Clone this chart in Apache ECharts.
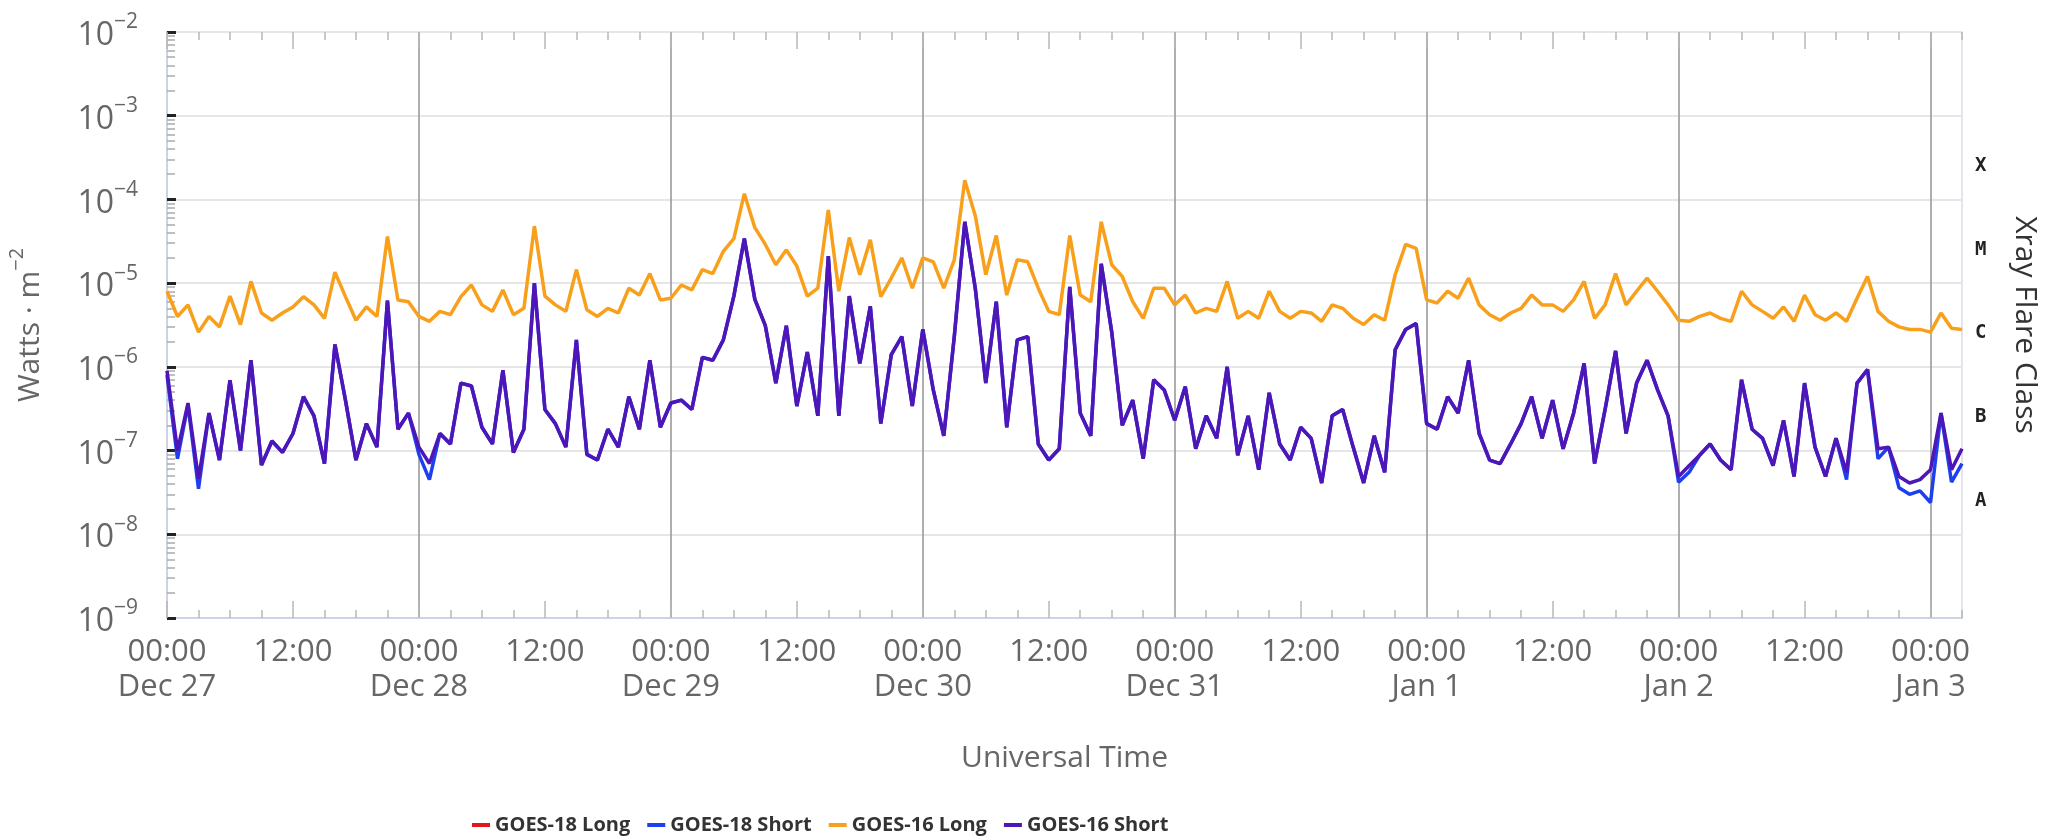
<!DOCTYPE html>
<html>
<head>
<meta charset="utf-8">
<script src="https://cdn.jsdelivr.net/npm/echarts@6/dist/echarts.min.js"></script>
<style>
  html, body { margin: 0; padding: 0; background: #fff; }
  #main { width: 2051px; height: 836px; }
</style>
</head>
<body>
<div id="main"></div>
<script>
// hourly samples, hour 0 = Dec 27 00:00 UTC
var dayLabels = ['Dec 27', 'Dec 28', 'Dec 29', 'Dec 30', 'Dec 31', 'Jan 1', 'Jan 2', 'Jan 3'];
var flareClasses = ['A', 'B', 'C', 'M', 'X'];
var flareLevels = [-8, -7, -6, -5, -4];   // log10 of class threshold

var goes18Long = [];

var goes18Short = [
  8e-7, 8e-8, 3.5e-7, 3.5e-8, 2.8e-7, 7.7e-8, 6.9e-7, 1e-7, 1.2e-6, 6.7e-8, 1.3e-7, 9.5e-8,
  1.6e-7, 4.4e-7, 2.6e-7, 7e-8, 1.85e-6, 4e-7, 7.7e-8, 2.1e-7, 1.1e-7, 6.2e-6, 1.8e-7, 2.8e-7,
  9e-8, 4.5e-8, 1.6e-7, 1.2e-7, 6.4e-7, 5.9e-7, 1.9e-7, 1.2e-7, 9.1e-7, 9.5e-8, 1.8e-7, 1e-5,
  3.1e-7, 2.1e-7, 1.1e-7, 2.1e-6, 9e-8, 7.7e-8, 1.8e-7, 1.1e-7, 4.4e-7, 1.8e-7, 1.2e-6, 1.9e-7,
  3.7e-7, 4e-7, 3.1e-7, 1.3e-6, 1.2e-6, 2.1e-6, 7e-6, 3.4e-5, 6.4e-6, 3.1e-6, 6.4e-7, 3.1e-6,
  3.4e-7, 1.5e-6, 2.6e-7, 2.1e-5, 2.6e-7, 7e-6, 1.1e-6, 5.3e-6, 2.1e-7, 1.4e-6, 2.3e-6, 3.4e-7,
  2.8e-6, 5.3e-7, 1.5e-7, 2.3e-6, 5.4e-5, 8.7e-6, 6.4e-7, 6e-6, 1.9e-7, 2.1e-6, 2.3e-6, 1.2e-7,
  7.7e-8, 1.05e-7, 9e-6, 2.8e-7, 1.5e-7, 1.7e-5, 2.6e-6, 2e-7, 4e-7, 8e-8, 7e-7, 5.3e-7,
  2.3e-7, 5.8e-7, 1.05e-7, 2.6e-7, 1.4e-7, 1e-6, 8.8e-8, 2.6e-7, 5.9e-8, 4.9e-7, 1.2e-7, 7.7e-8,
  1.9e-7, 1.4e-7, 4.1e-8, 2.6e-7, 3.1e-7, 1.1e-7, 4.1e-8, 1.5e-7, 5.5e-8, 1.6e-6, 2.8e-6, 3.3e-6,
  2.1e-7, 1.8e-7, 4.4e-7, 2.8e-7, 1.2e-6, 1.6e-7, 7.7e-8, 7e-8, 1.2e-7, 2.1e-7, 4.4e-7, 1.4e-7,
  4e-7, 1.05e-7, 2.8e-7, 1.1e-6, 7e-8, 3.1e-7, 1.55e-6, 1.6e-7, 6.4e-7, 1.2e-6, 5.3e-7, 2.6e-7,
  4.2e-8, 5.5e-8, 8.8e-8, 1.2e-7, 7.7e-8, 5.9e-8, 7e-7, 1.8e-7, 1.4e-7, 6.6e-8, 2.3e-7, 4.9e-8,
  6.4e-7, 1.1e-7, 4.9e-8, 1.4e-7, 4.5e-8, 6.4e-7, 9.3e-7, 8e-8, 1.1e-7, 3.6e-8, 3e-8, 3.3e-8,
  2.4e-8, 2.8e-7, 4.2e-8, 7e-8
];

var goes16Long = [
  8e-6, 4e-6, 5.5e-6, 2.6e-6, 4e-6, 3e-6, 7e-6, 3.2e-6, 1.05e-5, 4.4e-6, 3.6e-6, 4.4e-6,
  5.2e-6, 6.9e-6, 5.5e-6, 3.8e-6, 1.35e-5, 6.9e-6, 3.6e-6, 5.2e-6, 4e-6, 3.6e-5, 6.3e-6, 6e-6,
  4e-6, 3.5e-6, 4.6e-6, 4.2e-6, 6.9e-6, 9.5e-6, 5.5e-6, 4.6e-6, 8.3e-6, 4.2e-6, 5e-6, 4.8e-5,
  7e-6, 5.5e-6, 4.6e-6, 1.45e-5, 4.8e-6, 4e-6, 5e-6, 4.4e-6, 8.7e-6, 7.2e-6, 1.3e-5, 6.3e-6,
  6.6e-6, 9.5e-6, 8.3e-6, 1.45e-5, 1.3e-5, 2.4e-5, 3.4e-5, 1.17e-4, 4.6e-5, 2.9e-5, 1.66e-5, 2.5e-5,
  1.6e-5, 7e-6, 8.7e-6, 7.5e-5, 8e-6, 3.5e-5, 1.26e-5, 3.3e-5, 6.9e-6, 1.15e-5, 2e-5, 8.7e-6,
  2e-5, 1.8e-5, 8.7e-6, 1.9e-5, 1.7e-4, 6.4e-5, 1.26e-5, 3.7e-5, 7.2e-6, 1.9e-5, 1.8e-5, 8.7e-6,
  4.6e-6, 4.2e-6, 3.7e-5, 7.2e-6, 6e-6, 5.4e-5, 1.66e-5, 1.2e-5, 6e-6, 3.8e-6, 8.7e-6, 8.7e-6,
  5.5e-6, 7.2e-6, 4.4e-6, 5e-6, 4.6e-6, 1.05e-5, 3.8e-6, 4.6e-6, 3.8e-6, 8e-6, 4.6e-6, 3.8e-6,
  4.6e-6, 4.4e-6, 3.5e-6, 5.5e-6, 5e-6, 3.8e-6, 3.2e-6, 4.2e-6, 3.6e-6, 1.26e-5, 2.9e-5, 2.6e-5,
  6.3e-6, 5.8e-6, 8e-6, 6.6e-6, 1.15e-5, 5.5e-6, 4.2e-6, 3.6e-6, 4.4e-6, 5e-6, 7.2e-6, 5.5e-6,
  5.5e-6, 4.6e-6, 6.3e-6, 1.05e-5, 3.8e-6, 5.5e-6, 1.3e-5, 5.5e-6, 8e-6, 1.15e-5, 8e-6, 5.5e-6,
  3.6e-6, 3.5e-6, 4e-6, 4.4e-6, 3.8e-6, 3.5e-6, 8e-6, 5.5e-6, 4.6e-6, 3.8e-6, 5.2e-6, 3.5e-6,
  7.2e-6, 4.2e-6, 3.6e-6, 4.4e-6, 3.5e-6, 6.6e-6, 1.2e-5, 4.6e-6, 3.5e-6, 3e-6, 2.8e-6, 2.8e-6,
  2.6e-6, 4.4e-6, 2.9e-6, 2.8e-6
];

var goes16Short = [
  9e-7, 1e-7, 3.7e-7, 4.6e-8, 2.8e-7, 7.7e-8, 6.9e-7, 1e-7, 1.2e-6, 6.7e-8, 1.3e-7, 9.5e-8,
  1.6e-7, 4.4e-7, 2.6e-7, 7e-8, 1.85e-6, 4e-7, 7.7e-8, 2.1e-7, 1.1e-7, 6.2e-6, 1.8e-7, 2.8e-7,
  1.1e-7, 7e-8, 1.6e-7, 1.2e-7, 6.4e-7, 5.9e-7, 1.9e-7, 1.2e-7, 9.1e-7, 9.5e-8, 1.8e-7, 1e-5,
  3.1e-7, 2.1e-7, 1.1e-7, 2.1e-6, 9e-8, 7.7e-8, 1.8e-7, 1.1e-7, 4.4e-7, 1.8e-7, 1.2e-6, 1.9e-7,
  3.7e-7, 4e-7, 3.1e-7, 1.3e-6, 1.2e-6, 2.1e-6, 7e-6, 3.4e-5, 6.4e-6, 3.1e-6, 6.4e-7, 3.1e-6,
  3.4e-7, 1.5e-6, 2.6e-7, 2.1e-5, 2.6e-7, 7e-6, 1.1e-6, 5.3e-6, 2.1e-7, 1.4e-6, 2.3e-6, 3.4e-7,
  2.8e-6, 5.3e-7, 1.5e-7, 2.3e-6, 5.4e-5, 8.7e-6, 6.4e-7, 6e-6, 1.9e-7, 2.1e-6, 2.3e-6, 1.2e-7,
  7.7e-8, 1.05e-7, 9e-6, 2.8e-7, 1.5e-7, 1.7e-5, 2.6e-6, 2e-7, 4e-7, 8e-8, 7e-7, 5.3e-7,
  2.3e-7, 5.8e-7, 1.05e-7, 2.6e-7, 1.4e-7, 1e-6, 8.8e-8, 2.6e-7, 5.9e-8, 4.9e-7, 1.2e-7, 7.7e-8,
  1.9e-7, 1.4e-7, 4.1e-8, 2.6e-7, 3.1e-7, 1.1e-7, 4.1e-8, 1.5e-7, 5.5e-8, 1.6e-6, 2.8e-6, 3.3e-6,
  2.1e-7, 1.8e-7, 4.4e-7, 2.8e-7, 1.2e-6, 1.6e-7, 7.7e-8, 7e-8, 1.2e-7, 2.1e-7, 4.4e-7, 1.4e-7,
  4e-7, 1.05e-7, 2.8e-7, 1.1e-6, 7e-8, 3.1e-7, 1.55e-6, 1.6e-7, 6.4e-7, 1.2e-6, 5.3e-7, 2.6e-7,
  4.9e-8, 6.6e-8, 8.8e-8, 1.2e-7, 7.7e-8, 5.9e-8, 7e-7, 1.8e-7, 1.4e-7, 6.6e-8, 2.3e-7, 4.9e-8,
  6.4e-7, 1.1e-7, 4.9e-8, 1.4e-7, 5.5e-8, 6.4e-7, 9.3e-7, 1.05e-7, 1.1e-7, 4.9e-8, 4.1e-8, 4.5e-8,
  5.9e-8, 2.8e-7, 5.9e-8, 1.05e-7
];

var mychart = echarts.init(document.getElementById('main'));

function toPoints(arr) {
    // plot on a log10 scale
    return arr.map(function (v, i) { return [i, Math.log10(v)]; });
}

var majorHours = [], minorHours = [], dayHours = [];
for (var h = 0; h <= 171; h += 3) {
    if (h % 12 === 0) majorHours.push(h); else minorHours.push(h);
    if (h % 24 === 0 && h > 0) dayHours.push(h);
}
var minorDecades = [];
for (var n = -9; n < -2; n++) {
    for (var k = 2; k <= 9; k++) minorDecades.push(n + Math.log10(k));
}

var font = 'Open Sans';
var supRich = {
    b: {fontFamily: font, fontSize: 32, color: '#666', lineHeight: 40, verticalAlign: 'bottom'},
    s: {fontFamily: font, fontSize: 21, color: '#666', lineHeight: 22, verticalAlign: 'top'}
};

function hourLabel(v) {
    if (v % 24 === 0) return '00:00\n' + dayLabels[v / 24];
    return '12:00';
}

var tickAxis = function (pos, vals, len) {
    return {
        type: 'value', min: 0, max: 171, position: pos, gridIndex: 0,
        axisLine: {show: false},
        axisTick: {show: true, inside: true, length: len, customValues: vals,
            lineStyle: {color: '#b8b8b8', width: 1.5}},
        axisLabel: {show: false},
        splitLine: {show: false}
    };
};

var option = {
    animation: false,
    grid: {
        left: 167, right: 89, top: 32, bottom: 218,
        show: true, borderColor: '#d9dde8', borderWidth: 1.5,
        outerBoundsMode: 'none'
    },
    legend: {
        left: 467, top: 810,
        icon: 'rect', itemWidth: 18, itemHeight: 4, itemGap: 17,
        textStyle: {fontFamily: font, fontWeight: 'bold', fontSize: 20, color: '#333'},
        data: ['GOES-18 Long', 'GOES-18 Short', 'GOES-16 Long', 'GOES-16 Short']
    },
    xAxis: [
        {
            type: 'value', min: 0, max: 171, position: 'bottom',
            name: 'Universal Time', nameLocation: 'middle', nameGap: 125,
            nameTextStyle: {fontFamily: font, fontSize: 30, color: '#666'},
            axisLine: {show: true, lineStyle: {color: '#ccd3e3', width: 2}},
            axisTick: {show: true, inside: true, length: 17, customValues: majorHours,
                lineStyle: {color: '#b8b8b8', width: 1.5}},
            axisLabel: {customValues: majorHours, formatter: hourLabel, margin: 17,
                fontFamily: font, fontSize: 31, lineHeight: 35, color: '#666'},
            splitLine: {show: false}
        },
        tickAxis('bottom', minorHours, 8),
        tickAxis('top', majorHours, 17),
        tickAxis('top', minorHours, 8),
        {
            type: 'value', min: 0, max: 171, position: 'bottom',
            axisLine: {show: false},
            axisTick: {show: false, customValues: dayHours},
            axisLabel: {show: false},
            splitLine: {show: true, lineStyle: {color: '#9a9a9a', width: 1.6}}
        }
    ],
    yAxis: [
        {
            type: 'value', min: -9, max: -2, interval: 1, position: 'left',
            name: '{n|Watts · m}{s|−2}', nameLocation: 'middle', nameGap: 122, nameRotate: 90,
            nameTextStyle: {
                rich: {
                    n: {fontFamily: font, fontSize: 30, color: '#666', lineHeight: 38, verticalAlign: 'bottom'},
                    s: {fontFamily: font, fontSize: 20, color: '#666', lineHeight: 20, verticalAlign: 'top'}
                }
            },
            axisLine: {show: true, lineStyle: {color: '#ccd3e3', width: 2}},
            axisTick: {show: true, inside: true, length: 9, lineStyle: {color: '#222', width: 3}},
            axisLabel: {
                margin: 29,
                formatter: function (v) { return '{b|10}{s|−' + Math.abs(v) + '}'; },
                rich: supRich
            },
            splitLine: {show: true, lineStyle: {color: '#e6e6e6', width: 2}}
        },
        {
            type: 'value', min: -9, max: -2, position: 'left',
            axisLine: {show: false},
            axisTick: {show: true, inside: true, length: 8, customValues: minorDecades,
                lineStyle: {color: '#aaa', width: 1.5}},
            axisLabel: {show: false},
            splitLine: {show: false}
        },
        {
            type: 'value', min: -9, max: -2, position: 'right',
            name: 'Xray Flare Class', nameLocation: 'middle', nameGap: 48, nameRotate: -90,
            nameTextStyle: {fontFamily: font, fontSize: 30, color: '#333'},
            axisLine: {show: false},
            axisTick: {show: false},
            axisLabel: {
                // labels sit a little below the middle of each class band
                customValues: flareLevels.map(function (l) { return l + 0.4; }),
                formatter: function (v) { return flareClasses[flareLevels.indexOf(Math.round(v - 0.4))]; },
                margin: 13,
                fontFamily: 'DejaVu Sans Mono', fontWeight: 'bold', fontSize: 19, color: '#222'
            },
            splitLine: {show: false}
        }
    ],
    series: [
        {name: 'GOES-18 Long', type: 'line', color: '#e3171b', showSymbol: false, symbol: 'none',
         lineStyle: {width: 3.5}, data: toPoints(goes18Long)},
        {name: 'GOES-18 Short', type: 'line', color: '#1c3ff0', showSymbol: false, symbol: 'none',
         lineStyle: {width: 3.5}, data: toPoints(goes18Short)},
        {name: 'GOES-16 Long', type: 'line', color: '#f8a01c', showSymbol: false, symbol: 'none',
         lineStyle: {width: 3.5}, data: toPoints(goes16Long)},
        {name: 'GOES-16 Short', type: 'line', color: '#4e16b6', showSymbol: false, symbol: 'none',
         lineStyle: {width: 3.5}, data: toPoints(goes16Short)}
    ]
};

mychart.setOption(option);
</script>
</body>
</html>
